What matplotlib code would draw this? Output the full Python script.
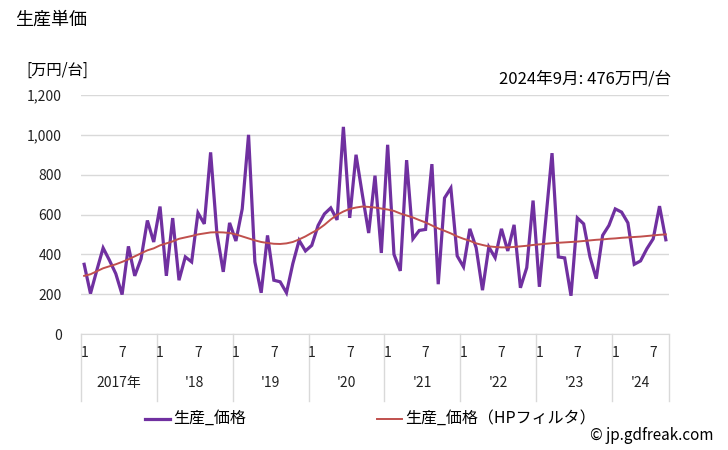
import matplotlib

matplotlib.use("Agg")
import matplotlib.pyplot as plt
from matplotlib.lines import Line2D

plt.rcParams["font.family"] = ["Noto Sans CJK JP", "DejaVu Sans"]

# monthly production unit price, Jan 2017 - Sep 2024 (万円/台)
price = [
    350, 203, 320, 432, 370, 303, 198, 440, 292, 378, 570, 462,
    640, 292, 582, 270, 387, 362, 608, 553, 912, 503, 312, 558,
    467, 628, 1000, 362, 207, 495, 270, 262, 207, 353, 470, 417,
    445, 545, 603, 633, 573, 1040, 583, 900, 700, 507, 795, 407,
    950, 400, 317, 873, 478, 520, 525, 853, 250, 683, 733, 392,
    337, 528, 433, 220, 437, 383, 528, 417, 548, 232, 333, 670,
    237, 570, 908, 387, 382, 192, 583, 553, 387, 278, 495, 545,
    628, 612, 558, 350, 367, 428, 478, 642, 473,
]
trend = [
    292, 300, 315, 330, 340, 350, 362, 375, 390, 405, 420, 430,
    445, 455, 465, 478, 485, 492, 500, 505, 510, 511, 510, 507,
    500, 490, 480, 470, 462, 457, 453, 452, 455, 462, 475, 490,
    508, 525, 548, 575, 598, 615, 628, 635, 640, 638, 635, 630,
    625, 618, 605, 595, 585, 572, 560, 545, 530, 518, 505, 490,
    478, 468, 455, 447, 440, 437, 435, 435, 437, 440, 443, 447,
    450, 453, 456, 458, 460, 462, 464, 467, 470, 473, 475, 478,
    480, 483, 485, 487, 489, 492, 495, 498, 500,
]
year_labels = ["2017年", "'18", "'19", "'20", "'21", "'22", "'23", "'24"]
y_ticks = [0, 200, 400, 600, 800, 1000, 1200]

PURPLE = "#7030A0"
RED = "#C0504D"
GRID = "#D9D9D9"
TEXT = "#222222"

n = len(price)
x = list(range(n))

fig = plt.figure(figsize=(7.28, 4.5), dpi=100)
W, H = 728, 450
left, right, top, bottom = 81, 669, 95, 334
ax = fig.add_axes([left / W, 1 - bottom / H, (right - left) / W, (bottom - top) / H])

ax.plot(x, price, color=PURPLE, lw=2.3, solid_joinstyle="miter", zorder=3)
ax.plot(x, trend, color=RED, lw=1.4, zorder=4)

ax.set_xlim(-0.5, n - 0.5)
ax.set_ylim(0, 1200)
ax.set_yticks(y_ticks)
ax.set_yticklabels([f"{v:,}" for v in y_ticks], fontsize=10, color=TEXT)
ax.tick_params(axis="y", length=0, pad=14)
ax.tick_params(axis="x", length=0, labelbottom=False)
ax.grid(axis="y", color=GRID, lw=1)
ax.set_axisbelow(True)
for side in ["top", "right", "left"]:
    ax.spines[side].set_visible(False)
ax.spines["bottom"].set_color(GRID)

# month and year labels under the axis
trans = ax.get_xaxis_transform()
for i in range(n):
    month = i % 12 + 1
    if month in (1, 7):
        ax.text(i, -0.08, str(month), transform=trans, ha="center", va="center",
                fontsize=10, color=TEXT)
for k, label in enumerate(year_labels):
    start = k * 12 - 0.5
    end = min(start + 12, n - 0.5)
    ax.text((start + end) / 2, -0.205, label, transform=trans, ha="center",
            va="center", fontsize=10, color=TEXT)
    ax.add_line(Line2D([start, start], [0, -0.28], transform=trans, color=GRID,
                       lw=1, clip_on=False))
ax.add_line(Line2D([n - 0.5, n - 0.5], [0, -0.28], transform=trans, color=GRID,
                   lw=1, clip_on=False))

fig.text(15 / W, 1 - 20 / H, "生産単価", fontsize=13, ha="left", va="center")
fig.text(26 / W, 1 - 70 / H, "[万円/台]", fontsize=11, ha="left", va="center")
fig.text(671 / W, 1 - 79 / H, "2024年9月: 476万円/台", fontsize=12,
         ha="right", va="center")

# legend
fig.add_artist(Line2D([145 / W, 170 / W], [1 - 419 / H] * 2, color=PURPLE, lw=2.3))
fig.text(173 / W, 1 - 418 / H, "生産_価格", fontsize=11.5, ha="left", va="center")
fig.add_artist(Line2D([377 / W, 402 / W], [1 - 419 / H] * 2, color=RED, lw=1.4))
fig.text(405 / W, 1 - 418 / H, "生産_価格（HPフィルタ）", fontsize=11.5,
         ha="left", va="center")
fig.text(714 / W, 1 - 435 / H, "© jp.gdfreak.com", fontsize=11, ha="right",
         va="center")

fig.savefig("out.png", dpi=100)
